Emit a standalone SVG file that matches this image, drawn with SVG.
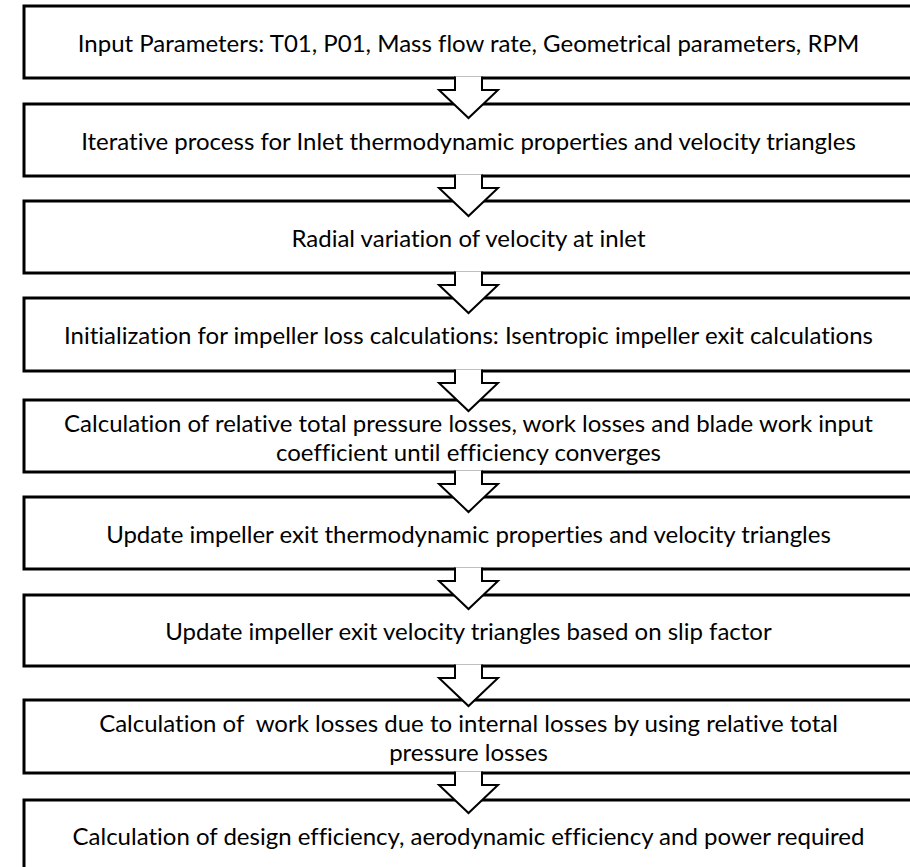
<svg xmlns="http://www.w3.org/2000/svg" width="910" height="867" viewBox="0 0 910 867">
<style>
.box{fill:#fff;stroke:#000;stroke-width:3}
.t{font-family:Lato,"Liberation Sans",sans-serif;font-size:24px;fill:#000;text-anchor:middle;dominant-baseline:central;white-space:pre;font-variant-ligatures:none;font-feature-settings:"liga" 0,"dlig" 0}
.arr{fill:#fff;stroke:#000;stroke-width:2;stroke-linejoin:miter}
</style>
<rect width="910" height="867" fill="#fff"/>
<g id="n1"><rect class="box" x="24" y="6" width="890" height="72"/><text class="t" x="468.5" y="42">Input Parameters: T01, P01, Mass flow rate, Geometrical parameters, RPM</text></g>
<g id="n2"><rect class="box" x="24" y="104" width="890" height="72"/><text class="t" x="468.5" y="140">Iterative process for Inlet thermodynamic properties and velocity triangles</text></g>
<g id="n3"><rect class="box" x="24" y="201" width="890" height="72"/><text class="t" x="468.5" y="237">Radial variation of velocity at inlet</text></g>
<g id="n4"><rect class="box" x="24" y="298" width="890" height="73"/><text class="t" x="468.5" y="334">Initialization for impeller loss calculations: Isentropic impeller exit calculations</text></g>
<g id="n5"><rect class="box" x="24" y="400" width="890" height="72"/><text class="t" x="468.5" y="422">Calculation of relative total pressure losses, work losses and blade work input</text><text class="t" x="468.5" y="451">coefficient until efficiency converges</text></g>
<g id="n6"><rect class="box" x="24" y="497" width="890" height="72"/><text class="t" x="468.5" y="533">Update impeller exit thermodynamic properties and velocity triangles</text></g>
<g id="n7"><rect class="box" x="24" y="595" width="890" height="71"/><text class="t" x="468.5" y="630">Update impeller exit velocity triangles based on slip factor</text></g>
<g id="n8"><rect class="box" x="24" y="700" width="890" height="73"/><text class="t" x="468.5" y="722" xml:space="preserve">Calculation of  work losses due to internal losses by using relative total</text><text class="t" x="468.5" y="751">pressure losses</text></g>
<g id="n9"><rect class="box" x="24" y="800" width="890" height="80"/><text class="t" x="468.5" y="835">Calculation of design efficiency, aerodynamic efficiency and power required</text></g>
<g id="connectors">
<path class="arr" d="M455,76.5 V90 H439 L468.5,118 L498,90 H482 V76.5"/>
<path class="arr" d="M455,174.5 V188 H439 L468.5,216 L498,188 H482 V174.5"/>
<path class="arr" d="M455,271.5 V285 H439 L468.5,313 L498,285 H482 V271.5"/>
<path class="arr" d="M455,369.5 V383 H439 L468.5,411 L498,383 H482 V369.5"/>
<path class="arr" d="M455,470.5 V484 H439 L468.5,512 L498,484 H482 V470.5"/>
<path class="arr" d="M455,567.5 V581 H439 L468.5,609 L498,581 H482 V567.5"/>
<path class="arr" d="M455,664.5 V678 H439 L468.5,706 L498,678 H482 V664.5"/>
<path class="arr" d="M455,771.5 V785 H439 L468.5,813 L498,785 H482 V771.5"/>
</g>
</svg>
